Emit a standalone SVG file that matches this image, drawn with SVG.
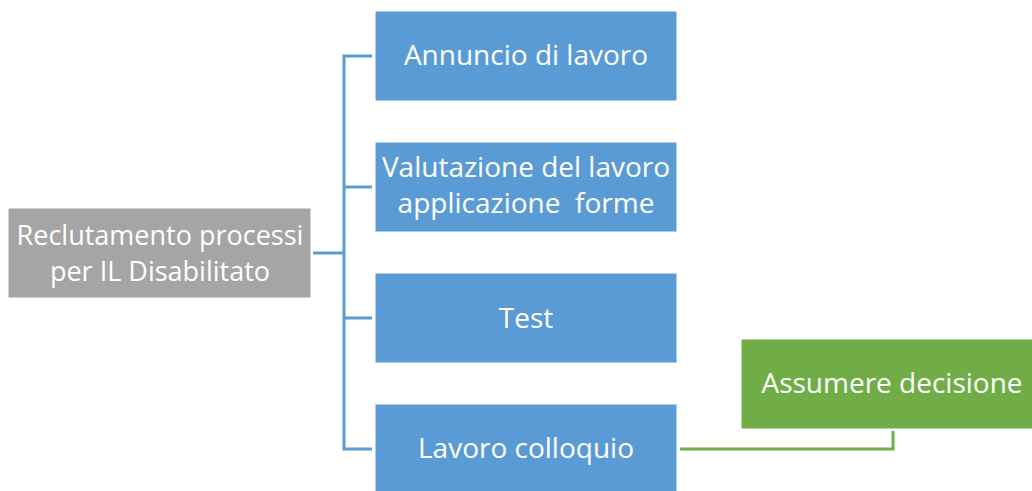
<svg xmlns="http://www.w3.org/2000/svg" width="1032" height="491" viewBox="0 0 1032 491">
<style>
.t{font-family:"Open Sans","Liberation Sans",sans-serif;font-size:28px;fill:#fff;text-anchor:middle;white-space:pre}
.s{font-size:27px}
.b{fill:#5B9BD5;stroke:#fff;stroke-width:1}
.g{fill:#A5A5A5;stroke:#fff;stroke-width:1}
.gr{fill:#70AD47;stroke:#fff;stroke-width:1}
.cb{fill:none;stroke:#5B9BD5;stroke-width:3}
.cg{fill:none;stroke:#70AD47;stroke-width:3}
</style>
<rect width="1032" height="491" fill="#fff"/>
<g id="connectors">
<path class="cb" d="M313 253H344M372 56H344V449H372M344 187H372M344 318H372"/>
<path class="cg" d="M680 449H893V431"/>
</g>
<g id="root"><rect class="g" x="8" y="208" width="303" height="90"/><text class="t s" x="160" y="245">Reclutamento processi</text><text class="t s" x="160" y="281">per IL Disabilitato</text></g>
<g id="n1"><rect class="b" x="375" y="11" width="302" height="90"/><text class="t" x="526" y="65">Annuncio di lavoro</text></g>
<g id="n2"><rect class="b" x="375" y="142" width="302" height="90"/><text class="t" x="526" y="177">Valutazione del lavoro</text><text class="t" x="526" y="213" xml:space="preserve">applicazione  forme</text></g>
<g id="n3"><rect class="b" x="375" y="273" width="302" height="90"/><text class="t" x="526" y="328">Test</text></g>
<g id="n4"><rect class="b" x="375" y="404" width="302" height="90"/><text class="t" x="526" y="458">Lavoro colloquio</text></g>
<g id="n5"><rect class="gr" x="741" y="339" width="295" height="90"/><text class="t" x="892" y="393">Assumere decisione</text></g>
</svg>
